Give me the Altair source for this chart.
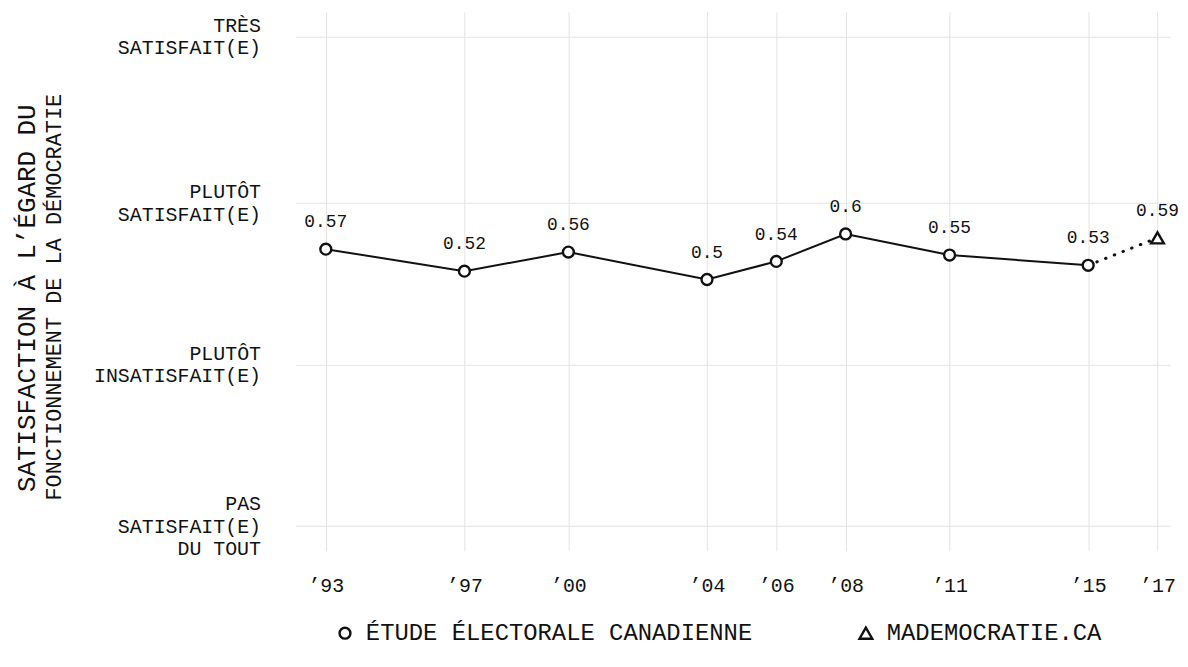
import altair as alt
import pandas as pd

FONT = "Liberation Mono"
INK = "#111111"

# ---- data ----
years = [1993, 1997, 2000, 2004, 2006, 2008, 2011, 2015, 2017]
values = [0.566, 0.521, 0.560, 0.504, 0.541, 0.597, 0.554, 0.533, 0.589]
sources = [
    "ÉTUDE ÉLECTORALE CANADIENNE", "ÉTUDE ÉLECTORALE CANADIENNE",
    "ÉTUDE ÉLECTORALE CANADIENNE", "ÉTUDE ÉLECTORALE CANADIENNE",
    "ÉTUDE ÉLECTORALE CANADIENNE", "ÉTUDE ÉLECTORALE CANADIENNE",
    "ÉTUDE ÉLECTORALE CANADIENNE", "ÉTUDE ÉLECTORALE CANADIENNE",
    "MADEMOCRATIE.CA",
]
legend_order = ["ÉTUDE ÉLECTORALE CANADIENNE", "MADEMOCRATIE.CA"]
legend_shapes = ["circle", "triangle-up"]
marker_sizes = [120, 165]

x_tick_labels = ["’93", "’97", "’00", "’04", "’06", "’08", "’11", "’15", "’17"]
y_tick_values = [0, 0.33, 0.66, 1]
y_tick_labels = [
    ["PAS", "SATISFAIT(E)", "DU TOUT"],
    ["PLUTÔT", "INSATISFAIT(E)"],
    ["PLUTÔT", "SATISFAIT(E)"],
    ["TRÈS", "SATISFAIT(E)"],
]
y_title_line1 = ["SATISFACTION À L’ÉGARD DU"]
y_title_line2 = "FONCTIONNEMENT DE LA DÉMOCRATIE"

df = pd.DataFrame({"year": years, "value": values, "source": sources})
df_title = pd.DataFrame({"t": y_title_line1})


def js_str(s):
    return "'" + s.replace("'", "\\'") + "'"


x_expr = " : ".join(
    f"datum.value == {y} ? {js_str(l)}" for y, l in zip(years, x_tick_labels)
) + " : ''"
y_expr = " : ".join(
    f"datum.value == {v} ? [" + ", ".join(js_str(p) for p in l) + "]"
    for v, l in zip(y_tick_values, y_tick_labels)
) + " : ''"

LINE_H = 22.5
x_enc = alt.X(
    "year:Q",
    scale=alt.Scale(domain=[1992.119, 2017.363], nice=False, zero=False),
    axis=alt.Axis(
        values=years, labelExpr=x_expr, title=None, grid=True, ticks=False,
        domain=False, labelFont=FONT, labelFontSize=20, labelColor=INK,
        labelPadding=25, gridColor="#e3e3e3", gridWidth=1,
    ),
)
y_enc = alt.Y(
    "value:Q",
    scale=alt.Scale(domain=[-0.0502, 1.0508], nice=False, zero=False),
    axis=alt.Axis(
        values=y_tick_values, labelExpr=y_expr, grid=True, ticks=False,
        domain=False, labelFont=FONT, labelFontSize=20, labelColor=INK,
        labelPadding=35, labelAlign="right", labelBaseline="middle",
        labelLineHeight=LINE_H,
        labelOffset={"condition": {"test": "datum.value == 0", "value": -LINE_H},
                     "value": -LINE_H / 2},
        gridColor="#e3e3e3", gridWidth=1,
        title=y_title_line2, titleFont=FONT, titleFontSize=22,
        titleFontWeight="normal", titleColor=INK, titleAngle=270,
        titleX=-243, titleY=286.5, titleAlign="center", titleBaseline="middle",
    ),
)

legend = alt.Legend(
    title=None, orient="none", legendX=38, legendY=613,
    direction="horizontal", labelFont=FONT, labelFontSize=24,
    labelColor=INK, symbolSize=115, symbolStrokeWidth=2.4,
    symbolStrokeColor=INK, symbolFillColor="white", labelOffset=9,
    columnPadding=102, labelLimit=700,
)

base = alt.Chart(df).encode(x=x_enc, y=y_enc)

solid = base.transform_filter(
    alt.datum.source == legend_order[0]
).mark_line(color=INK, strokeWidth=2)

dotted = base.transform_filter(alt.datum.year >= 2015).mark_line(
    color=INK, strokeWidth=3, strokeDash=[0.5, 8.9], strokeCap="round"
)

points = base.mark_point(
    filled=False, fill="white", strokeWidth=2.4, opacity=1
).encode(
    shape=alt.Shape(
        "source:N",
        scale=alt.Scale(domain=legend_order, range=legend_shapes),
        legend=legend,
    ),
    color=alt.Color(
        "source:N",
        scale=alt.Scale(domain=legend_order, range=[INK, INK]),
        legend=legend,
    ),
    size=alt.Size(
        "source:N",
        scale=alt.Scale(domain=legend_order, range=marker_sizes),
        legend=None,
    ),
)

labels = base.mark_text(
    dy=-27, font=FONT, fontSize=18, color=INK
).encode(text=alt.Text("value:Q", format=".2~f"))

title1 = alt.Chart(df_title).mark_text(
    angle=270, font=FONT, fontSize=26, color=INK, align="center",
    baseline="middle"
).encode(text="t:N", x=alt.value(-270), y=alt.value(288))

chart = (
    alt.layer(solid, dotted, points, labels, title1)
    .properties(
        width=880,
        height=542,
        autosize=alt.AutoSizeParams(type="none"),
        padding={"left": 289, "top": 2, "right": 10, "bottom": 105},
        background="white",
    )
    .configure_view(stroke=None)
)

chart.save("out.html", embed_options={"renderer": "svg", "actions": False})
